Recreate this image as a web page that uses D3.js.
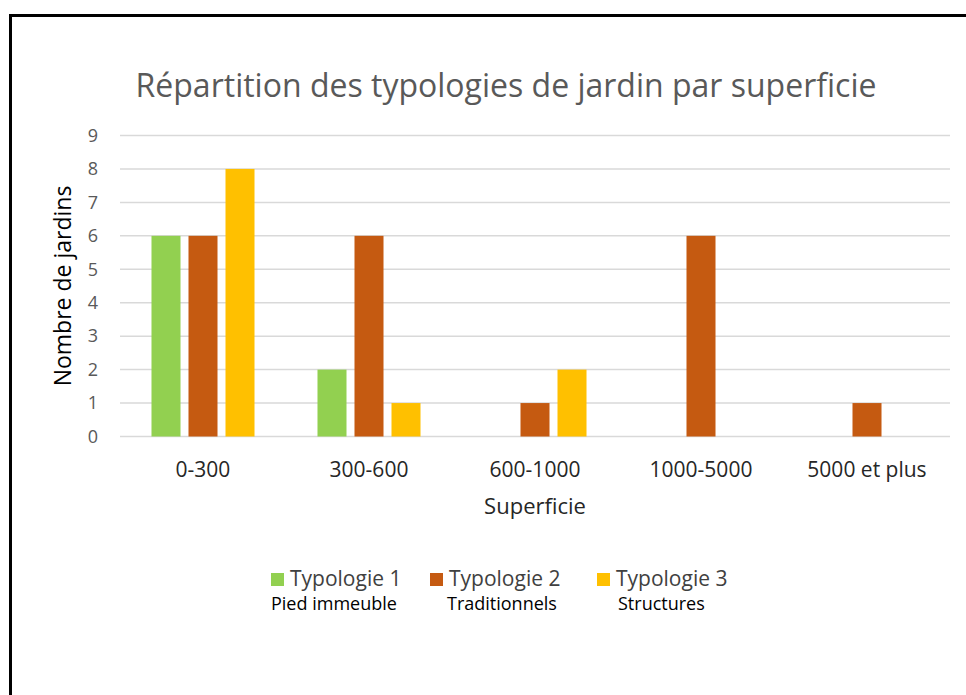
<!DOCTYPE html>
<html>
<head>
<meta charset="utf-8">
<script src="https://cdn.jsdelivr.net/npm/d3@7"></script>
<style>
  body { margin: 0; background: #fff; }
  svg { font-family: "Open Sans", Lato, sans-serif; }
</style>
</head>
<body>
<div id="chart"></div>
<script>
// data
const categories = ["0-300", "300-600", "600-1000", "1000-5000", "5000 et plus"];
const seriesNames = ["Typologie 1", "Typologie 2", "Typologie 3"];
const seriesSub = ["Pied immeuble", "Traditionnels", "Structures"];
const typo1 = [6, 2, 0, 0, 0];
const typo2 = [6, 6, 1, 6, 1];
const typo3 = [8, 1, 2, 0, 0];
const yTicks = [0, 1, 2, 3, 4, 5, 6, 7, 8, 9];
const colors = ["#92D050", "#C55A11", "#FFC000"];

const w = 966, h = 695;
const values = [typo1, typo2, typo3];

const svg = d3.select("#chart").append("svg")
  .attr("width", w).attr("height", h);

// frame (only top and left edges visible in the crop)
svg.append("rect").attr("x", 9).attr("y", 14).attr("width", 3).attr("height", h - 14).attr("fill", "#000");
svg.append("rect").attr("x", 9).attr("y", 14).attr("width", w - 9).attr("height", 3).attr("fill", "#000");

const x0 = d3.scaleBand().domain(categories).range([120, 950]);
const x1 = d3.scaleBand().domain(seriesNames).range([0, x0.bandwidth()])
  .paddingInner(0.216).paddingOuter(0.851);
const y = d3.scaleLinear().domain([0, 9]).range([436.5, 135.5]);

// grid
svg.append("g").selectAll("line").data(yTicks).enter().append("line")
  .attr("x1", 120).attr("x2", 950)
  .attr("y1", d => y(d)).attr("y2", d => y(d))
  .attr("stroke", "#d9d9d9").attr("stroke-width", 1.5);

// y tick labels
svg.append("g").selectAll("text").data(yTicks).enter().append("text")
  .attr("x", 98).attr("y", d => y(d)).attr("dy", "0.35em")
  .attr("text-anchor", "end").attr("font-size", 18).attr("fill", "#595959")
  .text(d => d);

// bars
const groups = svg.append("g").selectAll("g").data(categories).enter().append("g")
  .attr("transform", d => "translate(" + x0(d) + ",0)");
groups.selectAll("rect")
  .data((d, i) => seriesNames.map((s, j) => ({ s: s, v: values[j][i], c: colors[j] })))
  .enter().append("rect")
  .attr("x", d => x1(d.s))
  .attr("y", d => y(d.v))
  .attr("width", x1.bandwidth())
  .attr("height", d => y(0) - y(d.v))
  .attr("fill", d => d.c);

// x labels
svg.append("g").selectAll("text").data(categories).enter().append("text")
  .attr("x", d => x0(d) + x0.bandwidth() / 2).attr("y", 477)
  .attr("text-anchor", "middle").attr("font-size", 21).attr("fill", "#262626")
  .text(d => d);

// title
svg.append("text").attr("x", 506).attr("y", 97)
  .attr("text-anchor", "middle").attr("font-size", 32).attr("fill", "#595959")
  .text("Répartition des typologies de jardin par superficie");

// axis titles
svg.append("text").attr("x", 535).attr("y", 514)
  .attr("text-anchor", "middle").attr("font-size", 22).attr("fill", "#262626")
  .text("Superficie");
svg.append("text").attr("transform", "translate(63,286) rotate(-90)").attr("dy", "0.35em")
  .attr("text-anchor", "middle").attr("font-size", 23).attr("fill", "#000")
  .text("Nombre de jardins");

// legend
const legX = [271, 430, 597];
const subX = [271, 447, 618];
const leg = svg.append("g");
seriesNames.forEach((s, i) => {
  leg.append("rect").attr("x", legX[i]).attr("y", 573).attr("width", 13).attr("height", 13).attr("fill", colors[i]);
  leg.append("text").attr("x", legX[i] + 19).attr("y", 586)
    .attr("font-size", 21).attr("fill", "#404040").text(s);
  leg.append("text").attr("x", subX[i]).attr("y", 610)
    .attr("font-size", 18).attr("fill", "#000").text(seriesSub[i]);
});
</script>
</body>
</html>
